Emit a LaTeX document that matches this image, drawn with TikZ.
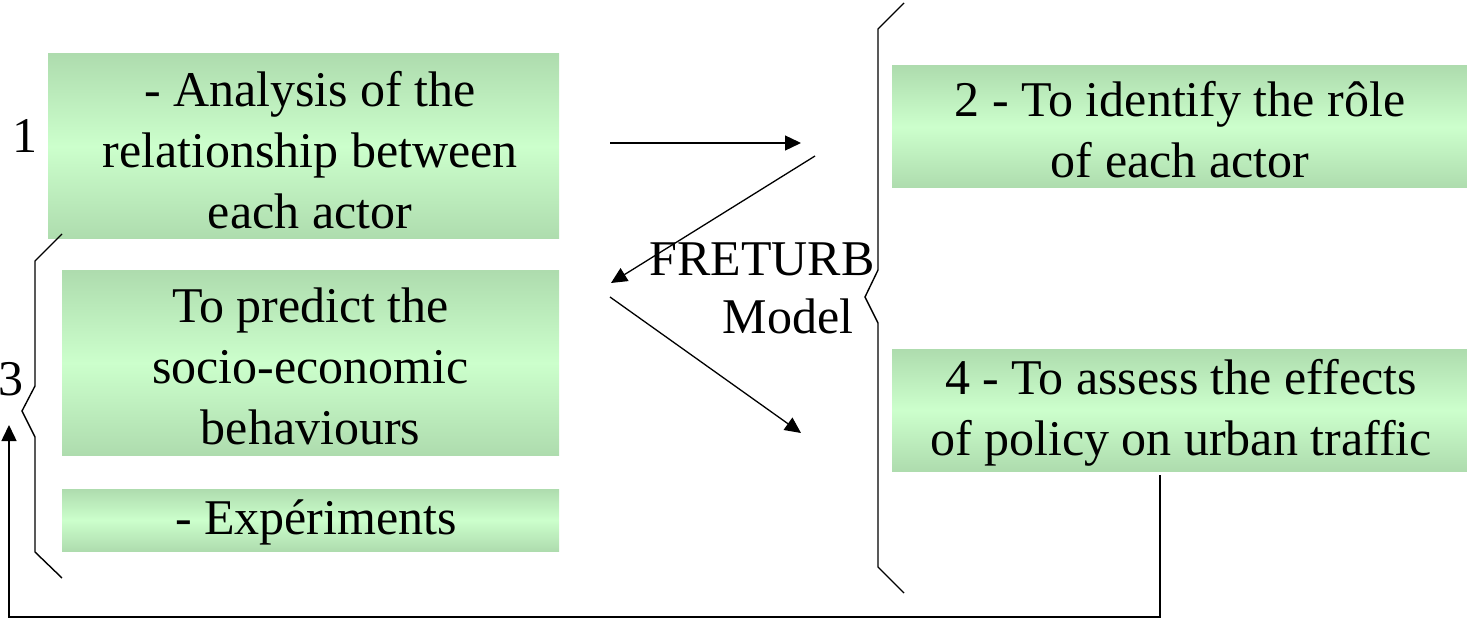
\documentclass[tikz,border=0pt]{standalone}
\usepackage{fontspec}
\setmainfont{Liberation Serif}
\usetikzlibrary{arrows.meta}

\definecolor{boxdark}{RGB}{174,220,174}
\definecolor{boxlight}{RGB}{204,255,204}

\tikzset{
  greenbox/.style={
    rectangle, inner sep=0pt, draw=none,
    top color=boxdark, bottom color=boxdark, middle color=boxlight
  },
  boxtext/.style={inner sep=0pt, align=center, font=\fontsize{50}{61}\selectfont},
  label text/.style={inner sep=0pt, font=\fontsize{50}{61}\selectfont},
  brace line/.style={line width=1.4pt, line join=miter},
  flow/.style={line width=1.3pt, -{Triangle[length=16pt,width=15pt]}}
}

\begin{document}
\begin{tikzpicture}[x=1pt, y=-1pt]
\useasboundingbox (0,0) rectangle (1467,620);

% left column of activities
\node[greenbox, minimum width=511, minimum height=185] (analysis) at (303.5,146.5) {};
\node[boxtext] (analysistext) at (310,150)
  {- Analysis of the\\relationship between\\each actor};
\node[greenbox, minimum width=497, minimum height=184] (predict) at (310.5,363) {};
\node[boxtext] (predicttext) at (310.5,366)
  {To predict the\\socio-economic\\behaviours};
\node[greenbox, minimum width=497, minimum height=62] (experiments) at (310.5,520) {};
\node[boxtext] (experimentstext) at (316,522) {- Expériments};

% right column of objectives
\node[greenbox, minimum width=575, minimum height=122] (role) at (1179.5,127) {};
\node[boxtext] (roletext) at (1180,130)
  {2 - To identify the rôle\\of each actor};
\node[greenbox, minimum width=575, minimum height=122] (assess) at (1179.5,410) {};
\node[boxtext] (assesstext) at (1181,413)
  {4 - To assess the effects\\of policy on urban traffic};

% numbers and model name
\node[label text] (one) at (25,136) {1};
\node[label text] (three) at (11,379) {3};
\node[label text] (freturb) at (762,259) {FRETURB};
\node[label text] (model) at (788,316) {Model};

% braces
\draw[brace line] (62,234) -- (35,261) -- (35,386) -- (22,411) -- (35,437)
  -- (35,552) -- (62,578);
\draw[brace line] (904,3) -- (878,29) -- (878,270) -- (865,297) -- (878,323)
  -- (878,567) -- (904,593);

% arrows around the model
\coordinate (a1s) at (610,143);
\coordinate (a1e) at (801,143);
\coordinate (a2s) at (815,156);
\coordinate (a2e) at (611,283);
\coordinate (a3s) at (610,297);
\coordinate (a3e) at (801,433);
\draw[flow] (a1s) -- (a1e);
\draw[flow] (a2s) -- (a2e);
\draw[flow] (a3s) -- (a3e);

% feedback loop from step 4 back to step 3
\coordinate (fbstart) at (1160,475);
\coordinate (fbcorner) at (1160,617);
\coordinate (fbend) at (9,425);
\draw[flow, line width=1.5pt] (fbstart) -- (fbcorner) -| (fbend);
\end{tikzpicture}
\end{document}
